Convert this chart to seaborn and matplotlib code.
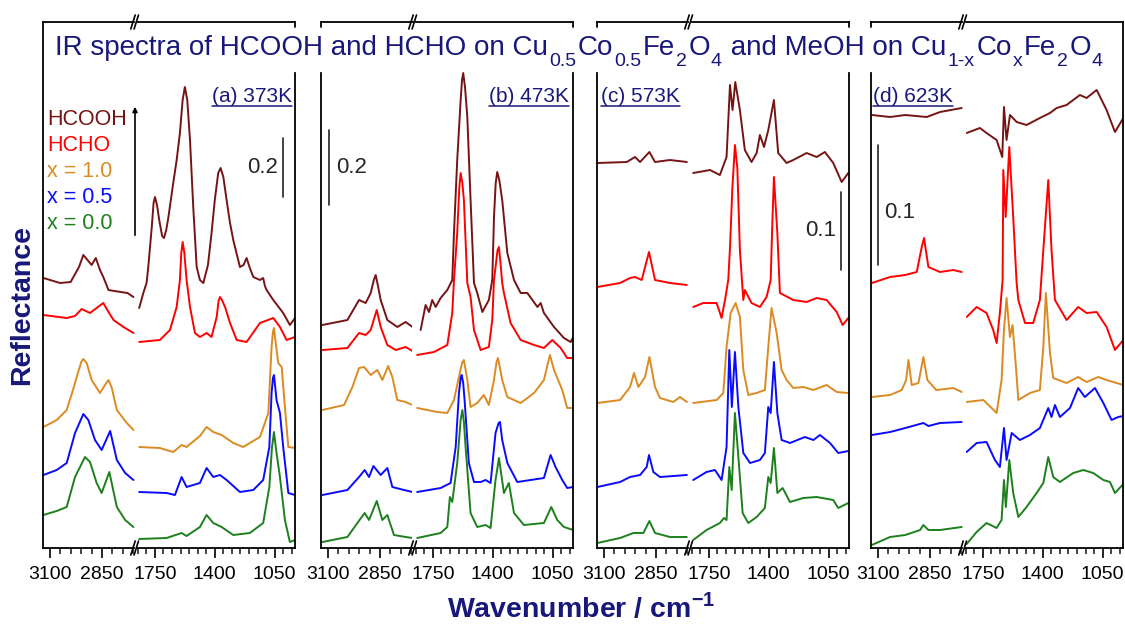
import matplotlib
matplotlib.use('Agg')
import matplotlib.pyplot as plt
from matplotlib.lines import Line2D
from matplotlib.patches import FancyArrowPatch
import pandas as pd
import seaborn as sns

# spectra: (wavenumber / cm-1, offset reflectance in a.u.)
# (a) 373 K
A_HCOOH = [(3132, 270), (3052, 265), (3001, 266), (2961, 281), (2940, 293), (2920, 288), (2900, 283),
           (2880, 290), (2860, 278), (2844, 271), (2819, 258), (2791, 257), (2760, 256), (2728, 255), (2699, 251),
           (1842, 240), (1818, 255), (1799, 265), (1789, 281), (1769, 320), (1758, 345), (1750, 351), (1738, 343),
           (1725, 328), (1708, 312), (1697, 310), (1684, 318), (1672, 330), (1643, 365), (1623, 388), (1604, 415),
           (1588, 448), (1575, 461), (1561, 448), (1545, 408), (1526, 341), (1506, 281), (1487, 268), (1467, 265),
           (1440, 283), (1419, 315), (1400, 348), (1380, 375), (1366, 380), (1350, 371), (1331, 348), (1311, 325),
           (1292, 308), (1253, 281), (1232, 283), (1214, 290), (1195, 280), (1175, 271), (1136, 268), (1117, 270),
           (1107, 262), (1097, 258), (1058, 248), (1000, 235), (961, 223), (931, 230)]
A_HCHO = [(3132, 233), (3020, 230), (2980, 232), (2948, 239), (2908, 235), (2876, 240), (2844, 245), (2819, 236),
          (2795, 228), (2747, 221), (2699, 215),
          (1842, 206), (1721, 208), (1662, 218), (1623, 241), (1604, 268), (1596, 295), (1588, 306), (1578, 295),
          (1565, 268), (1545, 241), (1516, 215), (1487, 211), (1448, 215), (1419, 211), (1389, 231), (1378, 247),
          (1370, 251), (1358, 248), (1340, 241), (1311, 225), (1272, 208), (1214, 206), (1136, 225), (1058, 230),
          (1019, 221), (980, 208), (931, 211)]
A_X10 = [(3132, 121), (3068, 128), (3020, 138), (2990, 158), (2972, 171), (2950, 186), (2940, 189), (2924, 185),
         (2900, 168), (2860, 155), (2836, 163), (2819, 168), (2803, 160), (2779, 138), (2731, 125), (2699, 118),
         (1842, 101), (1721, 100), (1643, 96), (1594, 103), (1565, 101), (1487, 112), (1448, 121), (1409, 116),
         (1360, 113), (1292, 105), (1234, 101), (1136, 111), (1087, 135), (1068, 201), (1060, 216), (1054, 220),
         (1046, 208), (1029, 185), (1009, 181), (990, 141), (970, 101), (931, 100)]
A_X05 = [(3132, 73), (3068, 78), (3020, 85), (2980, 115), (2940, 134), (2916, 128), (2884, 108), (2852, 98),
         (2811, 117), (2779, 88), (2739, 75), (2699, 68),
         (1842, 56), (1682, 55), (1633, 53), (1594, 71), (1565, 61), (1487, 65), (1448, 80), (1409, 71),
         (1370, 73), (1331, 68), (1253, 56), (1175, 58), (1117, 68), (1081, 101), (1068, 155), (1060, 170),
         (1054, 173), (1046, 160), (1039, 148), (1019, 135), (1000, 101), (970, 55), (931, 53)]
A_X00 = [(3132, 33), (3068, 37), (3020, 41), (2980, 71), (2932, 91), (2908, 86), (2876, 65), (2852, 55),
         (2815, 76), (2779, 41), (2739, 28), (2699, 21),
         (1842, 9), (1682, 10), (1594, 15), (1565, 12), (1487, 21), (1448, 33), (1409, 25), (1360, 21),
         (1292, 13), (1195, 15), (1117, 25), (1081, 61), (1066, 100), (1054, 116), (1039, 95), (1019, 71),
         (990, 28), (961, 6), (931, 8)]

# (b) 473 K
B_HCOOH = [(3127, 223), (3007, 228), (2951, 248), (2919, 245), (2895, 255), (2880, 268), (2871, 273),
           (2860, 262), (2847, 248), (2815, 228), (2767, 221), (2727, 226), (2694, 221),
           (1822, 218), (1793, 243), (1773, 236), (1754, 248), (1734, 241), (1705, 250), (1666, 258), (1637, 268),
           (1627, 315), (1608, 388), (1588, 448), (1580, 468), (1573, 475), (1562, 460), (1549, 431), (1530, 348),
           (1510, 265), (1491, 255), (1461, 236), (1423, 248), (1403, 268), (1393, 331), (1383, 365), (1374, 376),
           (1362, 368), (1345, 348), (1315, 295), (1276, 268), (1237, 255), (1198, 255), (1139, 241), (1120, 245),
           (1101, 235), (1042, 221), (984, 210), (945, 206), (929, 211)]
B_HCHO = [(3127, 198), (3007, 200), (2951, 215), (2919, 213), (2895, 218), (2866, 238), (2847, 221),
          (2815, 203), (2775, 198), (2727, 201), (2694, 197),
          (1842, 193), (1744, 196), (1666, 203), (1637, 235), (1627, 268), (1608, 315), (1596, 360), (1588, 375),
          (1578, 365), (1569, 348), (1549, 265), (1530, 251), (1510, 218), (1471, 198), (1423, 201), (1403, 228),
          (1393, 268), (1384, 281), (1372, 298), (1364, 301), (1355, 285), (1345, 265), (1335, 255), (1296, 225),
          (1237, 208), (1159, 203), (1101, 200), (1052, 208), (1003, 200), (965, 190), (929, 190)]
B_X10 = [(3127, 138), (3023, 143), (2983, 161), (2951, 180), (2927, 181), (2895, 173), (2863, 178), (2839, 168),
         (2811, 182), (2791, 171), (2767, 148), (2727, 146), (2694, 143),
         (1842, 140), (1725, 136), (1666, 135), (1627, 148), (1598, 171), (1580, 185), (1569, 188), (1549, 168),
         (1530, 141), (1491, 145), (1452, 153), (1423, 143), (1393, 168), (1378, 186), (1370, 190), (1360, 182),
         (1345, 168), (1315, 151), (1237, 145), (1159, 155), (1101, 168), (1076, 186), (1066, 193), (1042, 178),
         (994, 158), (965, 140), (929, 140)]
B_X05 = [(3127, 53), (3007, 58), (2951, 71), (2924, 78), (2903, 71), (2882, 82), (2847, 73), (2815, 80),
         (2791, 61), (2735, 58), (2694, 56),
         (1842, 56), (1705, 60), (1647, 65), (1617, 101), (1598, 155), (1588, 170), (1582, 173), (1573, 165),
         (1565, 148), (1540, 85), (1510, 66), (1471, 66), (1442, 68), (1413, 65), (1384, 115), (1366, 125),
         (1358, 126), (1345, 108), (1315, 85), (1257, 66), (1179, 68), (1101, 70), (1062, 93), (1033, 81),
         (994, 68), (965, 60), (929, 61)]
B_X00 = [(3127, 6), (3007, 11), (2959, 25), (2924, 35), (2903, 28), (2866, 47), (2839, 28), (2815, 33),
         (2783, 13), (2727, 11), (2694, 10),
         (1842, 10), (1705, 15), (1666, 21), (1651, 51), (1637, 46), (1608, 85), (1588, 128), (1578, 138),
         (1569, 126), (1559, 101), (1530, 35), (1491, 21), (1442, 23), (1413, 20), (1384, 68), (1364, 90),
         (1335, 55), (1306, 65), (1276, 35), (1218, 23), (1101, 25), (1058, 41), (1023, 28), (984, 21), (929, 18)]

# (c) 573 K
C_HCOOH = [(3132, 385), (2991, 386), (2951, 391), (2927, 386), (2882, 396), (2855, 386), (2783, 388), (2702, 386),
           (1842, 375), (1744, 378), (1686, 373), (1647, 391), (1627, 463), (1612, 438), (1596, 466), (1569, 438),
           (1540, 398), (1501, 386), (1471, 395), (1452, 413), (1428, 401), (1403, 418), (1370, 448), (1345, 395),
           (1296, 385), (1257, 388), (1179, 395), (1120, 391), (1072, 396), (1023, 385), (974, 366), (935, 375)]
C_HCHO = [(3132, 261), (3023, 265), (2975, 270), (2951, 271), (2919, 268), (2884, 296), (2855, 268),
          (2783, 265), (2702, 263),
          (1842, 241), (1783, 245), (1705, 245), (1676, 230), (1656, 248), (1637, 268), (1627, 300), (1613, 360),
          (1598, 403), (1584, 380), (1569, 298), (1549, 248), (1540, 258), (1501, 245), (1452, 241), (1413, 251),
          (1389, 268), (1380, 321), (1370, 371), (1350, 315), (1335, 255), (1257, 248), (1179, 246), (1120, 250),
          (1062, 248), (1003, 236), (968, 223), (935, 230)]
C_X10 = [(3132, 145), (3023, 148), (2975, 161), (2956, 175), (2935, 161), (2903, 171), (2882, 191), (2855, 161),
         (2831, 150), (2767, 146), (2735, 151), (2702, 146),
         (1842, 145), (1705, 148), (1666, 155), (1647, 201), (1623, 235), (1594, 245), (1569, 231), (1549, 178),
         (1520, 153), (1471, 155), (1423, 158), (1403, 201), (1384, 240), (1354, 215), (1325, 178), (1296, 168),
         (1257, 160), (1198, 161), (1139, 158), (1062, 163), (1003, 156), (935, 155)]
C_X05 = [(3132, 61), (3023, 66), (2975, 71), (2927, 73), (2895, 81), (2884, 93), (2863, 76), (2831, 71),
         (2702, 73),
         (1842, 68), (1764, 76), (1715, 78), (1676, 68), (1647, 101), (1631, 198), (1616, 141), (1598, 196),
         (1578, 141), (1549, 95), (1510, 85), (1452, 88), (1423, 95), (1403, 141), (1389, 135), (1370, 186),
         (1350, 135), (1325, 108), (1276, 105), (1189, 111), (1139, 108), (1101, 113), (1042, 105), (994, 95),
         (935, 97)]
C_X00 = [(3132, 5), (3023, 10), (2959, 15), (2911, 15), (2882, 27), (2855, 15), (2783, 11), (2702, 11),
         (1842, 8), (1764, 18), (1686, 25), (1662, 30), (1647, 28), (1631, 81), (1617, 58), (1598, 135),
         (1578, 91), (1553, 35), (1520, 25), (1471, 31), (1423, 40), (1403, 71), (1389, 65), (1370, 100),
         (1350, 55), (1319, 60), (1276, 46), (1198, 50), (1120, 51), (1023, 48), (994, 40), (935, 45)]

# (d) 623 K
D_HCOOH = [(3130, 433), (3042, 431), (2969, 433), (2866, 431), (2802, 436), (2698, 440),
           (1845, 415), (1768, 420), (1729, 415), (1670, 408), (1637, 391), (1627, 441), (1612, 408), (1592, 433),
           (1553, 426), (1495, 423), (1417, 430), (1358, 435), (1319, 440), (1261, 443), (1183, 453), (1144, 450),
           (1085, 458), (1027, 438), (978, 416), (929, 430)]
D_HCHO = [(3130, 265), (3042, 271), (2969, 273), (2914, 276), (2890, 301), (2879, 310), (2858, 281),
          (2802, 276), (2738, 278), (2698, 276),
          (1845, 231), (1787, 241), (1729, 235), (1690, 218), (1670, 205), (1651, 235), (1635, 268), (1631, 378),
          (1617, 331), (1596, 401), (1573, 331), (1553, 265), (1543, 248), (1504, 225), (1456, 225), (1417, 248),
          (1397, 298), (1368, 368), (1349, 298), (1329, 248), (1261, 228), (1193, 241), (1144, 235), (1085, 236),
          (1027, 221), (978, 198), (929, 208)]
D_X10 = [(3130, 151), (3042, 153), (2986, 158), (2965, 168), (2954, 188), (2938, 163), (2906, 165), (2882, 191),
         (2863, 168), (2820, 158), (2738, 160), (2698, 156),
         (1845, 146), (1748, 148), (1699, 140), (1670, 135), (1641, 168), (1627, 218), (1612, 250), (1592, 211),
         (1577, 223), (1557, 181), (1543, 148), (1475, 155), (1417, 158), (1397, 201), (1382, 255), (1358, 195),
         (1339, 170), (1261, 165), (1193, 171), (1144, 166), (1076, 171), (1027, 168), (929, 163)]
D_X05 = [(3130, 113), (3042, 116), (2969, 120), (2882, 125), (2858, 122), (2802, 125), (2698, 126),
         (1845, 96), (1787, 105), (1729, 106), (1680, 88), (1651, 81), (1627, 120), (1612, 88), (1582, 115),
         (1534, 108), (1475, 113), (1417, 120), (1368, 140), (1349, 131), (1329, 143), (1300, 131), (1241, 140),
         (1193, 160), (1154, 151), (1095, 160), (1046, 145), (998, 128), (959, 131), (929, 132)]
D_X00 = [(3130, 3), (3042, 11), (2969, 13), (2898, 18), (2882, 23), (2858, 18), (2802, 18), (2698, 21),
         (1845, 4), (1787, 16), (1729, 25), (1670, 20), (1641, 28), (1627, 68), (1616, 41), (1596, 88),
         (1573, 55), (1543, 31), (1495, 41), (1436, 55), (1397, 65), (1368, 91), (1339, 71), (1300, 66),
         (1222, 75), (1163, 78), (1105, 75), (1046, 68), (1007, 66), (978, 55), (929, 64)]

SERIES = ['HCOOH', 'HCHO', 'x = 1.0', 'x = 0.5', 'x = 0.0']
COLORS = ['#761414', '#ff0000', '#dc8a22', '#0a0aff', '#1d801d']
PANELS = ['(a) 373K', '(b) 473K', '(c) 573K', '(d) 623K']
TRACES = [[A_HCOOH, A_HCHO, A_X10, A_X05, A_X00],
          [B_HCOOH, B_HCHO, B_X10, B_X05, B_X00],
          [C_HCOOH, C_HCHO, C_X10, C_X05, C_X00],
          [D_HCOOH, D_HCHO, D_X10, D_X05, D_X00]]
SCALE_BAR = [0.2, 0.2, 0.1, 0.1]        # reflectance
AU_PER_REFL = [295, 375, 780, 1200]     # a.u. per 1.0 reflectance in each panel
CH_LIM, FP_LIM = (3134, 2694), (1852, 931)
CH_MAJOR, FP_MAJOR = [3100, 2850], [1750, 1400, 1050]

# title pieces: (text, is_subscript)
TITLE = [('IR spectra of HCOOH and HCHO on Cu', 0), ('0.5', 1), ('Co', 0), ('0.5', 1), ('Fe', 0), ('2', 1),
         ('O', 0), ('4', 1), (' and MeOH on Cu', 0), ('1-x', 1), ('Co', 0), ('x', 1), ('Fe', 0), ('2', 1),
         ('O', 0), ('4', 1)]

NAVY = '#18187a'

sns.set_theme(style='white')
plt.rcParams['font.family'] = ['Liberation Sans', 'DejaVu Sans']
plt.rcParams['mathtext.fontset'] = 'custom'
plt.rcParams['mathtext.rm'] = 'Liberation Sans'
plt.rcParams['mathtext.bf'] = 'Liberation Sans:bold'

W, H = 1125, 624
fig = plt.figure(figsize=(W / 100, H / 100), dpi=100)
fig.patch.set_facecolor('white')


def fx(x):
    return x / W


def fy(y):
    return 1 - y / H


PANEL_X = [43, 321, 597, 871]
LEFT_W, GAP, PANEL_W = 91.5, 3.0, 252
Y_BOT, Y_TOP = 548, 22
SPINE_TOP = 475   # side lines stop below the title
palette = dict(zip(SERIES, COLORS))

for i, x0 in enumerate(PANEL_X):
    rows = []
    for name, pts in zip(SERIES, TRACES[i]):
        for wn, v in pts:
            rows.append((name, wn, v, 'CH' if wn > 2000 else 'FP'))
    df = pd.DataFrame(rows, columns=['series', 'wn', 'refl', 'region'])

    axL = fig.add_axes([fx(x0), fy(Y_BOT), LEFT_W / W, (Y_BOT - Y_TOP) / H])
    axR = fig.add_axes([fx(x0 + LEFT_W + GAP), fy(Y_BOT), (PANEL_W - LEFT_W - GAP) / W, (Y_BOT - Y_TOP) / H])

    for ax, reg, lim, major in [(axL, 'CH', CH_LIM, CH_MAJOR), (axR, 'FP', FP_LIM, FP_MAJOR)]:
        sns.lineplot(data=df[df.region == reg], x='wn', y='refl', hue='series', hue_order=SERIES,
                     palette=palette, estimator=None, linewidth=1.4, legend=False, ax=ax)
        ax.set_xlim(lim)
        ax.set_ylim(0, Y_BOT - Y_TOP)
        ax.set_xlabel('')
        ax.set_ylabel('')
        ax.set_yticks([])
        ax.set_xticks(major)
        ax.set_xticks(list(range((lim[0] // 50) * 50, lim[1], -50)), minor=True)
        ax.tick_params(axis='x', which='major', direction='out', length=7, width=1.2, pad=6,
                       labelsize=14, colors='black', bottom=True)
        ax.tick_params(axis='x', which='minor', direction='out', length=4.5, width=1.2, bottom=True)
        for s in ax.spines.values():
            s.set_linewidth(1.3)
            s.set_color('black')

    axL.spines['right'].set_visible(False)
    axR.spines['left'].set_visible(False)
    top = Y_BOT - Y_TOP
    if i != 0:
        axL.spines['left'].set_bounds(0, SPINE_TOP)
        axL.plot([CH_LIM[0], CH_LIM[0]], [top - 5, top], color='black', lw=1.3, clip_on=False)
    if i != 3:
        axR.spines['right'].set_bounds(0, SPINE_TOP)
        axR.plot([FP_LIM[1], FP_LIM[1]], [top - 5, top], color='black', lw=1.3, clip_on=False)

    # axis break marks
    xb = x0 + LEFT_W
    for yb in (Y_BOT, Y_TOP):
        for dx in (-1.5, 1.8):
            fig.add_artist(Line2D([fx(xb + dx - 2.2), fx(xb + dx + 2.2)], [fy(yb + 7), fy(yb - 7)],
                                  transform=fig.transFigure, color='black', lw=1.2))

    # scale bar
    bar = SCALE_BAR[i] * AU_PER_REFL[i]
    lab = f'{SCALE_BAR[i]:.1f}'
    if i == 0:
        axR.plot([1002, 1002], [351, 351 + bar], color='#222222', lw=1.2)
        axR.text(1030, 351 + bar / 2, lab, ha='right', va='center', fontsize=16)
    elif i == 1:
        axL.plot([3096, 3096], [343, 343 + bar], color='#222222', lw=1.2)
        axL.text(3060, 343 + bar / 2, lab, ha='left', va='center', fontsize=16)
    elif i == 2:
        axR.plot([978, 978], [278, 278 + bar], color='#222222', lw=1.2)
        axR.text(1007, 278 + bar / 2, lab, ha='right', va='center', fontsize=16)
    else:
        axL.plot([3100, 3100], [283, 283 + bar], color='#222222', lw=1.2)
        axL.text(3071, 336, lab, ha='left', va='center', fontsize=16)

renderer = fig.canvas.get_renderer()

# title, laid out piece by piece so the subscripts sit low like the original
xcur = 55
for txt, sub in TITLE:
    t = fig.text(fx(xcur), fy(66 if sub else 55), txt, ha='left', va='baseline',
                 fontsize=14 if sub else 20, color=NAVY)
    xcur = t.get_window_extent(renderer=renderer).x1 + (1.5 if sub else 1.0)

# panel labels (underlined)
label_pos = [(292, 'right'), (569, 'right'), (601, 'left'), (873, 'left')]
for lab, (xp, ha) in zip(PANELS, label_pos):
    t = fig.text(fx(xp), fy(102), lab, ha=ha, va='baseline', fontsize=15, color=NAVY)
    bb = t.get_window_extent(renderer=renderer)
    fig.add_artist(Line2D([bb.x0 / W, bb.x1 / W], [fy(106), fy(106)], transform=fig.transFigure,
                          color=NAVY, lw=1.1))

# legend text in panel (a)
for k, (name, col) in enumerate(zip(SERIES, COLORS)):
    fig.text(fx(47), fy(125 + 26 * k), name, ha='left', va='baseline', fontsize=15.5, color=col)
fig.add_artist(FancyArrowPatch((fx(135), fy(238)), (fx(135), fy(104)), transform=fig.transFigure,
                               arrowstyle='-|>', mutation_scale=7, lw=1.2, color='black'))

fig.text(fx(22), fy(305), 'Reflectance', rotation=90, ha='center', va='center', fontsize=20.5,
         fontweight='bold', color=NAVY)
fig.text(fx(581), fy(617), r'Wavenumber / cm$^{\mathbf{-1}}$', ha='center', va='baseline', fontsize=20.5,
         fontweight='bold', color=NAVY)

fig.savefig('out.png', dpi=100, facecolor='white')
